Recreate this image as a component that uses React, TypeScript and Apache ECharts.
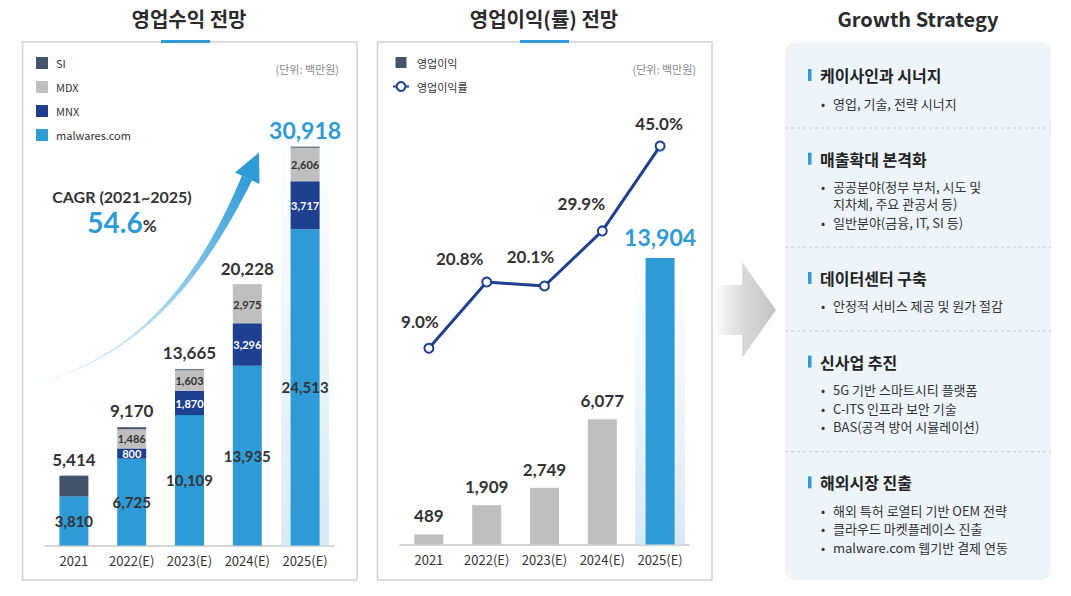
import React, { useEffect, useRef } from "react";
import * as echarts from "echarts";

// ---------- data ----------
const years = ["2021", "2022(E)", "2023(E)", "2024(E)", "2025(E)"];
const malwaresCom = [3810, 6725, 10109, 13935, 24513];
const mnx: (number | null)[] = [null, 800, 1870, 3296, 3717];
const mdx: (number | null)[] = [null, 1486, 1603, 2975, 2606];
const si = [1604, 159, 83, 22, 82];
const revenueTotals = [5414, 9170, 13665, 20228, 30918];
const operatingProfit = [489, 1909, 2749, 6077, 13904];
const operatingMargin = [9.0, 20.8, 20.1, 29.9, 45.0];
const marginLabelOffsets = [[-9, -27], [-27, -24], [-14, -29], [-21, -27], [-1, -23]];

const titleRevenue = "영업수익 전망";
const titleProfit = "영업이익(률) 전망";
const titleStrategy = "Growth Strategy";
const unitLabel = "(단위: 백만원)";
const cagrLabel = "CAGR (2021~2025)";
const cagrValue = "54.6";

const strategyTitles = ["케이사인과 시너지", "매출확대 본격화", "데이터센터 구축", "신사업 추진", "해외시장 진출"];
const strategyBullets = [
  ["영업, 기술, 전략 시너지"],
  ["공공분야(정부 부처, 시도 및\n지차체, 주요 관공서 등)", "일반분야(금융, IT, SI 등)"],
  ["안정적 서비스 제공 및 원가 절감"],
  ["5G 기반 스마트시티 플랫폼", "C-ITS 인프라 보안 기술", "BAS(공격 방어 시뮬레이션)"],
  ["해외 특허 로열티 기반 OEM 전략", "클라우드 마켓플레이스 진출", "malware.com 웹기반 결제 연동"],
];

// ---------- styles ----------
const KR = "'Noto Sans CJK KR', 'Noto Sans', sans-serif";
const NUM = "Lato, 'Noto Sans', sans-serif";
const BLUE = "#2e9bd6";
const NAVY = "#1f3f8f";
const GREY = "#bfbfbf";
const SLATE = "#44546a";
const fmt = (v: number) => v.toLocaleString("en-US");

function bandRender(halfWidth: number) {
  return (params: any, api: any) => {
    const top = api.coord([api.value(0), api.value(1)]);
    const base = api.coord([api.value(0), 0]);
    return {
      type: "rect",
      shape: { x: top[0] - halfWidth, y: top[1], width: halfWidth * 2, height: base[1] - top[1] },
      style: {
        fill: new echarts.graphic.LinearGradient(0, 0, 0, 1, [
          { offset: 0, color: "rgba(225,238,248,0)" },
          { offset: 1, color: "#d8e9f6" },
        ]),
      },
    };
  };
}

function curvedArrowPoints() {
  const P = [[0, 390], [140, 372], [205, 269], [247, 178]];
  const N = 60;
  const up: number[][] = [];
  const lo: number[][] = [];
  for (let i = 0; i <= N; i++) {
    const t = i / N;
    const a = (1 - t) ** 3, b = 3 * (1 - t) ** 2 * t, c = 3 * (1 - t) * t * t, d = t ** 3;
    const x = a * P[0][0] + b * P[1][0] + c * P[2][0] + d * P[3][0];
    const y = a * P[0][1] + b * P[1][1] + c * P[2][1] + d * P[3][1];
    const dx = 3 * (1 - t) ** 2 * (P[1][0] - P[0][0]) + 6 * (1 - t) * t * (P[2][0] - P[1][0]) + 3 * t * t * (P[3][0] - P[2][0]);
    const dy = 3 * (1 - t) ** 2 * (P[1][1] - P[0][1]) + 6 * (1 - t) * t * (P[2][1] - P[1][1]) + 3 * t * t * (P[3][1] - P[2][1]);
    const len = Math.hypot(dx, dy);
    const nx = -dy / len, ny = dx / len;
    const hw = 0.3 + 5.3 * t * t;
    up.push([x + nx * hw, y + ny * hw]);
    lo.push([x - nx * hw, y - ny * hw]);
  }
  return up.concat(lo.reverse());
}

function strategyGraphics() {
  const els: any[] = [];
  els.push({
    type: "rect", shape: { x: 785, y: 42, width: 266, height: 538, r: 10 },
    style: { fill: "#edf5fb" }, z: 0,
  });
  let y = 75;
  strategyTitles.forEach((title, si) => {
    els.push({ type: "rect", shape: { x: 808, y: y - 6, width: 3.5, height: 12 }, style: { fill: BLUE }, z: 1 });
    els.push({
      type: "text", z: 1,
      style: { text: title, x: 820, y, fill: "#222", fontSize: 16, fontWeight: "bold", fontFamily: KR, verticalAlign: "middle" },
    });
    let by = y + 28;
    strategyBullets[si].forEach((b, bi) => {
      if (bi > 0) by += 18.5;
      const lines = b.split("\n");
      els.push({
        type: "text", z: 1,
        style: { text: "•", x: 821, y: by, fill: "#333", fontSize: 12, fontFamily: KR, verticalAlign: "middle" },
      });
      lines.forEach((ln, li) => {
        if (li > 0) by += 17;
        els.push({
          type: "text", z: 1,
          style: { text: ln, x: 833, y: by, fill: "#333", fontSize: 13, fontFamily: KR, verticalAlign: "middle" },
        });
      });
    });
    if (si < strategyTitles.length - 1) {
      const dy = by + 25;
      els.push({
        type: "line", z: 1, shape: { x1: 785, y1: dy, x2: 1051, y2: dy },
        style: { stroke: "#c6ccd2", lineWidth: 1, lineDash: [3, 3] },
      });
      y = dy + 30.7;
    }
  });
  return els;
}

function buildOption(): any {
  const graphic: any[] = [
    // panels
    { type: "rect", z: 0, shape: { x: 22.5, y: 42, width: 334.5, height: 538 }, style: { fill: "#fff", stroke: "#d2d2d2", lineWidth: 1.5 } },
    { type: "rect", z: 0, shape: { x: 377.5, y: 42, width: 334.5, height: 538 }, style: { fill: "#fff", stroke: "#d2d2d2", lineWidth: 1.5 } },
    // titles
    { type: "text", z: 2, style: { text: titleRevenue, x: 189, y: 18, fill: "#2b2b2b", fontSize: 20, fontWeight: "bold", fontFamily: KR, align: "center", verticalAlign: "middle" } },
    { type: "text", z: 2, style: { text: titleProfit, x: 544, y: 18, fill: "#2b2b2b", fontSize: 20, fontWeight: "bold", fontFamily: KR, align: "center", verticalAlign: "middle" } },
    { type: "text", z: 2, style: { text: titleStrategy, x: 918, y: 18, fill: "#2b2b2b", fontSize: 20, fontWeight: "bold", fontFamily: KR, align: "center", verticalAlign: "middle" } },
    { type: "rect", z: 3, shape: { x: 161, y: 40, width: 49, height: 3 }, style: { fill: BLUE } },
    { type: "rect", z: 3, shape: { x: 520, y: 40, width: 49, height: 3 }, style: { fill: BLUE } },
    // unit labels
    { type: "text", z: 2, style: { text: unitLabel, x: 339, y: 69, fill: "#888", fontSize: 11, fontFamily: KR, align: "right", verticalAlign: "middle" } },
    { type: "text", z: 2, style: { text: unitLabel, x: 696, y: 69, fill: "#888", fontSize: 11, fontFamily: KR, align: "right", verticalAlign: "middle" } },
    // CAGR
    { type: "polygon", z: 2, shape: { points: curvedArrowPoints() }, style: { fill: new echarts.graphic.LinearGradient(0, 1, 1, 0, [
      { offset: 0, color: "rgba(46,155,214,0)" },
      { offset: 0.45, color: "rgba(46,155,214,0.35)" },
      { offset: 1, color: "rgba(46,155,214,1)" },
    ]) } },
    { type: "polygon", z: 2, shape: { points: [[235, 172.5], [259, 152.5], [259.5, 184]] }, style: { fill: BLUE } },
    { type: "text", z: 2, style: { text: cagrLabel, x: 122, y: 196, fill: "#333", fontSize: 16, fontWeight: "bold", fontFamily: NUM, align: "center", verticalAlign: "middle" } },
    { type: "text", z: 2, style: {
      text: `{a|${cagrValue}}{b|%}`, x: 122, y: 222, align: "center", verticalAlign: "middle",
      rich: {
        a: { fontSize: 28, fontWeight: "bold", fill: BLUE, fontFamily: NUM },
        b: { fontSize: 17, fontWeight: "bold", fill: "#333", fontFamily: NUM, padding: [6, 0, 0, 0] },
      },
    } },
    // chevron arrow
    { type: "polygon", z: 2, shape: { points: [[712, 285], [742, 285], [742, 262], [776, 310], [742, 358], [742, 335], [712, 335]] },
      style: { fill: new echarts.graphic.LinearGradient(0, 0, 1, 0, [
        { offset: 0, color: "rgba(215,215,215,0)" },
        { offset: 0.5, color: "#d9d9d9" },
        { offset: 1, color: "#c3c3c3" },
      ]) } },
    ...strategyGraphics(),
  ];

  const axisLabel = { color: "#333", fontSize: 13, margin: 8, fontFamily: KR, interval: 0 };
  const axisLine = { lineStyle: { color: "#c8c8c8", width: 1.5 } };

  return {
    animation: false,
    backgroundColor: "#fff",
    graphic,
    legend: [
      {
        orient: "vertical", left: 36, top: 57, padding: 0, itemWidth: 12, itemHeight: 12, itemGap: 12, icon: "rect",
        selectedMode: false,
        textStyle: { color: "#333", fontSize: 11, fontFamily: KR, padding: [0, 0, 0, 3] },
        data: ["SI", "MDX", "MNX", "malwares.com"],
      },
      {
        orient: "vertical", left: 392, top: 57, padding: 0, itemWidth: 16, itemHeight: 11, itemGap: 13,
        selectedMode: false,
        textStyle: { color: "#333", fontSize: 11, fontFamily: KR, padding: [0, 0, 0, 3] },
        data: [
          { name: "영업이익", icon: "path://M0,0H10V10H0Z", itemStyle: { color: SLATE } },
          { name: "영업이익률" },
        ],
      },
    ],
    grid: [
      { left: 45, width: 289, top: 106.9, bottom: 50.5 },
      { left: 400, width: 289, top: 132.5, bottom: 51.5 },
      { left: 400, width: 289, top: 118, bottom: 197.1 },
    ],
    xAxis: [
      { gridIndex: 0, type: "category", data: years, axisTick: { show: false }, axisLine, axisLabel },
      { gridIndex: 1, type: "category", data: years, axisTick: { show: false }, axisLine, axisLabel },
      { gridIndex: 2, type: "category", data: years, show: false },
    ],
    yAxis: [
      { gridIndex: 0, type: "value", min: 0, max: 34000, show: false },
      { gridIndex: 1, type: "value", min: 0, max: 20000, show: false },
      { gridIndex: 2, type: "value", min: 0, max: 50, show: false },
    ],
    series: [
      {
        type: "custom", name: "band1", xAxisIndex: 0, yAxisIndex: 0, silent: true, clip: false, z: 1,
        data: [[4, 33100]], encode: { x: 0, y: 1 }, renderItem: bandRender(24),
      },
      {
        type: "bar", name: "malwares.com", stack: "rev", xAxisIndex: 0, yAxisIndex: 0, barWidth: 29, z: 3,
        itemStyle: { color: BLUE }, data: malwaresCom,
        label: { show: true, position: "inside", color: "#333", fontSize: 15, fontWeight: "bold", fontFamily: NUM, formatter: (p: any) => fmt(p.value) },
      },
      {
        type: "bar", name: "MNX", stack: "rev", xAxisIndex: 0, yAxisIndex: 0, barWidth: 29, z: 3,
        itemStyle: { color: NAVY }, data: mnx,
        label: { show: true, position: "inside", color: "#fff", fontSize: 11, fontWeight: "bold", fontFamily: NUM, formatter: (p: any) => fmt(p.value) },
      },
      {
        type: "bar", name: "MDX", stack: "rev", xAxisIndex: 0, yAxisIndex: 0, barWidth: 29, z: 3,
        itemStyle: { color: GREY }, data: mdx,
        label: { show: true, position: "inside", color: "#333", fontSize: 11, fontWeight: "bold", fontFamily: NUM, formatter: (p: any) => fmt(p.value) },
      },
      {
        type: "bar", name: "SI", stack: "rev", xAxisIndex: 0, yAxisIndex: 0, barWidth: 29, z: 3,
        itemStyle: { color: SLATE },
        data: si.map((v, i) => i === si.length - 1
          ? { value: v, label: { color: BLUE, fontSize: 23, distance: 5 } }
          : v),
        label: {
          show: true, position: "top", distance: 8, color: "#333", fontSize: 17, fontWeight: "bold", fontFamily: NUM,
          formatter: (p: any) => fmt(revenueTotals[p.dataIndex]),
        },
      },
      {
        type: "custom", name: "band2", xAxisIndex: 1, yAxisIndex: 1, silent: true, clip: false, z: 1,
        data: [[4, 14200]], encode: { x: 0, y: 1 }, renderItem: bandRender(25),
      },
      {
        type: "bar", name: "영업이익", xAxisIndex: 1, yAxisIndex: 1, barWidth: 29, z: 3,
        itemStyle: { color: GREY },
        data: operatingProfit.map((v, i) => i === operatingProfit.length - 1
          ? { value: v, itemStyle: { color: BLUE }, label: { color: BLUE, fontSize: 23, distance: 10 } }
          : v),
        label: { show: true, position: "top", distance: 10, color: "#333", fontSize: 17, fontWeight: "bold", fontFamily: NUM, formatter: (p: any) => fmt(p.value) },
      },
      {
        type: "line", name: "영업이익률", xAxisIndex: 2, yAxisIndex: 2, z: 5,
        symbol: "emptyCircle", symbolSize: 9,
        lineStyle: { color: NAVY, width: 3 },
        itemStyle: { color: NAVY, borderWidth: 2.5 },
        data: operatingMargin.map((v, i) => ({ value: v, label: { offset: marginLabelOffsets[i] } })),
        label: {
          show: true, position: "inside", color: "#333", fontSize: 17, fontWeight: "bold", fontFamily: NUM,
          formatter: (p: any) => p.value.toFixed(1) + "%",
        },
      },
    ],
  };
}

export default function App() {
  const ref = useRef<HTMLDivElement>(null);
  useEffect(() => {
    const chart = echarts.init(ref.current!, null, { renderer: "svg" });
    chart.setOption(buildOption());
    return () => chart.dispose();
  }, []);
  return (
    <div
      ref={ref}
      style={{ position: "absolute", left: 0, top: 0, width: 1071, height: 596, background: "#fff" }}
    />
  );
}
